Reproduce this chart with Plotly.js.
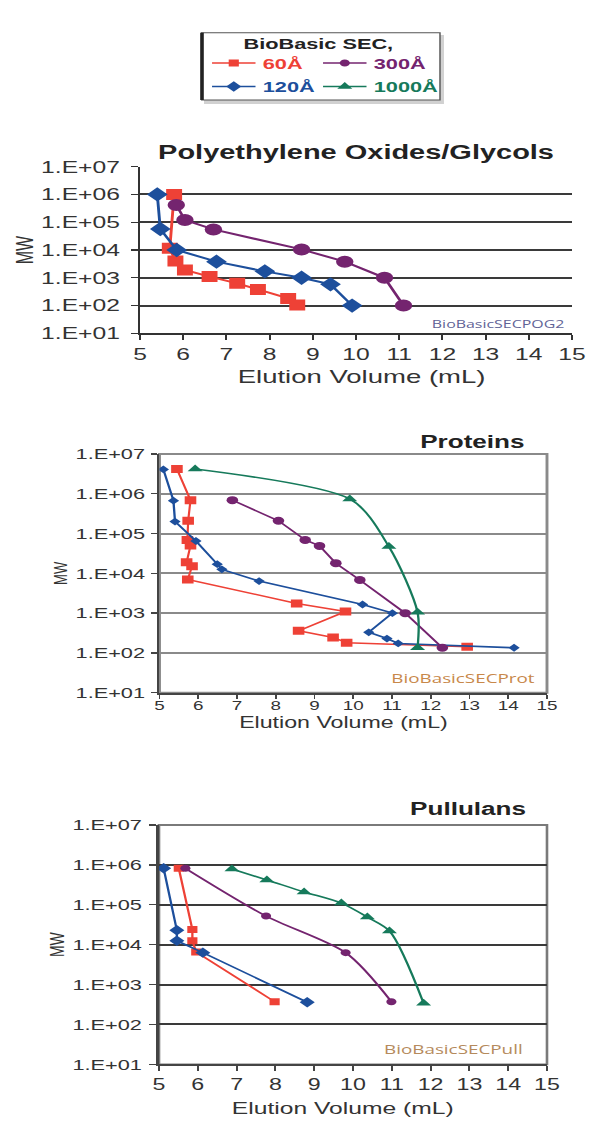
<!DOCTYPE html>
<html>
<head>
<meta charset="utf-8">
<script src="https://cdn.plot.ly/plotly-3.0.1.min.js"></script>
<style>
  html, body { margin: 0; padding: 0; background: #ffffff; overflow: hidden; }
  /* the original graphic is stretched sideways, so the plot is drawn narrow and widened */
  #chart { width: 412px; height: 1141px; transform: scaleX(1.449); transform-origin: 0 0; }
</style>
</head>
<body>
<div id="chart"></div>
<script>
// ---- data ----
var TICK_VALS = [1e1, 1e2, 1e3, 1e4, 1e5, 1e6, 1e7];
var TICK_TEXT = ["1.E+01", "1.E+02", "1.E+03", "1.E+04", "1.E+05", "1.E+06", "1.E+07"];
var X_TICKS = [5, 6, 7, 8, 9, 10, 11, 12, 13, 14, 15];

var SERIES_NAMES = ["60Å", "300Å", "120Å", "1000Å"];

// Polyethylene Oxides/Glycols
var PEO_60_X = [5.79, 5.69, 5.82, 6.04, 6.61, 7.25, 7.73, 8.43, 8.64];
var PEO_60_Y = [1.0e6, 1.15e4, 4.0e3, 1.9e3, 1.1e3, 630, 380, 180, 105];
var PEO_300_X = [5.84, 6.04, 6.70, 8.74, 9.74, 10.66, 11.10];
var PEO_300_Y = [4.2e5, 1.2e5, 5.5e4, 1.05e4, 3.8e3, 1.0e3, 100];
var PEO_120_X = [5.40, 5.47, 5.85, 6.77, 7.89, 8.74, 9.41, 9.91];
var PEO_120_Y = [1.0e6, 5.7e4, 1.0e4, 3.8e3, 1.7e3, 1.0e3, 580, 100];

// Proteins
var PROT_60_X = [5.45, 5.80, 5.74, 5.72, 5.80, 5.70, 5.84, 5.73, 8.54, 9.80, 8.59, 9.48, 9.83, 12.94];
var PROT_60_Y = [4.2e6, 6.9e5, 2.1e5, 6.9e4, 5.0e4, 1.9e4, 1.5e4, 7.0e3, 1.75e3, 1.1e3, 360, 245, 180, 142];
var PROT_300_X = [6.88, 8.07, 8.76, 9.13, 9.55, 10.17, 11.34, 12.30];
var PROT_300_Y = [6.9e5, 2.1e5, 6.9e4, 4.9e4, 1.8e4, 6.8e3, 1.0e3, 135];
var PROT_120_X = [5.10, 5.36, 5.40, 5.94, 6.49, 6.61, 7.57, 10.24, 11.01, 10.40, 10.87, 11.16, 14.15];
var PROT_120_Y = [4.1e6, 6.7e5, 2.0e5, 6.5e4, 1.7e4, 1.26e4, 6.4e3, 1.65e3, 1.0e3, 330, 230, 173, 135];
var PROT_1000_X = [5.92, 9.91, 10.92, 11.66, 11.66];
var PROT_1000_Y = [4.2e6, 7.4e5, 4.7e4, 1.05e3, 135];

// Pullulans
var PULL_60_X = [5.51, 5.86, 5.86, 5.96, 7.98];
var PULL_60_Y = [8.2e5, 2.4e4, 1.25e4, 6.5e3, 370];
var PULL_300_X = [5.68, 7.76, 9.81, 10.99];
var PULL_300_Y = [8.2e5, 5.2e4, 6.3e3, 370];
var PULL_120_X = [5.12, 5.46, 5.46, 6.13, 8.82];
var PULL_120_Y = [8.2e5, 2.3e4, 1.25e4, 6.3e3, 360];
var PULL_1000_X = [6.88, 7.78, 8.74, 9.70, 10.37, 10.94, 11.82];
var PULL_1000_Y = [7.9e5, 4.2e5, 2.1e5, 1.1e5, 4.9e4, 2.2e4, 340];

// ---- styles ----
var COLORS = { "60Å": "#ee4136", "300Å": "#74246f", "120Å": "#1d4f9c", "1000Å": "#167a5b" };
var SYMBOLS = { "60Å": "square", "300Å": "circle", "120Å": "diamond", "1000Å": "triangle-up" };
// one legend box per entry, laid out as a 2 x 2 key
var LEGEND_OF = { "60Å": "legend", "300Å": "legend2", "120Å": "legend3", "1000Å": "legend4" };

var FONT = "Liberation Sans, Arial, sans-serif";
var W = 597, H = 1141;
function px(x) { return x / W; }
function py(y) { return 1 - y / H; }

function series(name, xs, ys, xa, ya, size, width, shape, inLegend) {
  return {
    type: "scatter",
    mode: "lines+markers",
    name: '<span style="color:' + COLORS[name] + '"><b>' + name + "</b></span>",
    x: xs,
    y: ys,
    xaxis: xa,
    yaxis: ya,
    line: { color: COLORS[name], width: width, shape: shape || "linear", smoothing: 0.8 },
    marker: { color: COLORS[name], symbol: SYMBOLS[name], size: size, line: { width: 0 } },
    showlegend: !!inLegend,
    legend: LEGEND_OF[name],
    hoverinfo: "skip",
  };
}

var traces = [
  series("60Å", PEO_60_X, PEO_60_Y, "x", "y", 11, 2, "linear"),
  series("120Å", PEO_120_X, PEO_120_Y, "x", "y", 11, 2, "linear"),
  series("300Å", PEO_300_X, PEO_300_Y, "x", "y", 12, 2, "linear"),

  series("60Å", PROT_60_X, PROT_60_Y, "x2", "y2", 8, 1.5, "linear"),
  series("120Å", PROT_120_X, PROT_120_Y, "x2", "y2", 6, 1.6, "linear"),
  series("300Å", PROT_300_X, PROT_300_Y, "x2", "y2", 8, 1.6, "linear"),
  series("1000Å", PROT_1000_X, PROT_1000_Y, "x2", "y2", 9, 1.6, "spline"),

  series("60Å", PULL_60_X, PULL_60_Y, "x3", "y3", 7, 1.6, "linear", true),
  series("120Å", PULL_120_X, PULL_120_Y, "x3", "y3", 8, 1.6, "linear", true),
  series("300Å", PULL_300_X, PULL_300_Y, "x3", "y3", 7, 1.6, "spline", true),
  series("1000Å", PULL_1000_X, PULL_1000_Y, "x3", "y3", 9, 1.6, "spline", true),
];

function xAxis(left, right, anchor, o) {
  return {
    domain: [px(left), px(right)],
    anchor: anchor,
    range: [5, 15],
    tickmode: "array",
    tickvals: X_TICKS,
    ticks: "outside",
    ticklen: o.ticklen,
    tickwidth: 1.3,
    tickcolor: o.lineColor,
    ticklabelstandoff: o.xLabelGap || 0,
    showline: true,
    linecolor: o.lineColor,
    linewidth: o.lineWidth,
    showgrid: false,
    zeroline: false,
    tickfont: { family: FONT, size: o.tick, color: "#333333" },
    fixedrange: true,
  };
}

function yAxis(top, bottom, anchor, o) {
  return {
    domain: [py(bottom), py(top)],
    anchor: anchor,
    type: "log",
    range: [1, 7],
    tickmode: "array",
    tickvals: TICK_VALS,
    ticktext: TICK_TEXT,
    ticks: "outside",
    ticklen: o.ticklen,
    tickwidth: 1.3,
    tickcolor: o.lineColor,
    ticklabelstandoff: o.labelGap,
    showline: true,
    linecolor: o.lineColor,
    linewidth: o.lineWidth,
    showgrid: true,
    gridcolor: o.gridColor,
    gridwidth: o.gridWidth,
    zeroline: false,
    tickfont: { family: FONT, size: o.tick, color: "#333333" },
    title: { text: "MW", font: { family: FONT, size: o.title, color: "#333333" }, standoff: o.standoff },
    fixedrange: true,
  };
}

var TOP = { l: 140, r: 572, t: 166.7, b: 333.3 };
var MID = { l: 159.5, r: 547, t: 454, b: 692.7 };
var BOT = { l: 159, r: 547, t: 825, b: 1064.3 };

var topOpt = { ticklen: 5, lineColor: "#333333", lineWidth: 1.5, tick: 17, labelGap: 4, title: 16, standoff: 1,
  gridColor: "#3a3a3a", gridWidth: 2 };
var midOpt = { ticklen: 4, lineColor: "#444444", lineWidth: 2, tick: 13, xLabelGap: -4, labelGap: 1, title: 13,
  standoff: 2, gridColor: "#8a8a8a", gridWidth: 2 };
var midYOpt = Object.assign({}, midOpt, { tick: 15 });
var botOpt = { ticklen: 5, lineColor: "#444444", lineWidth: 1.8, tick: 16, labelGap: 2, title: 14, standoff: 2,
  gridColor: "#3a3a3a", gridWidth: 2 };
var botYOpt = Object.assign({}, botOpt, { tick: 15 });

function label(text, x, y, size, color, family, bold) {
  return {
    text: bold ? "<b>" + text + "</b>" : text,
    xref: "paper", yref: "paper", x: px(x), y: py(y),
    xanchor: "center", yanchor: "middle", showarrow: false,
    font: { family: family || FONT, size: size, color: color },
  };
}

function legendAt(x, y) {
  return {
    orientation: "h",
    x: px(x), xanchor: "left",
    y: py(y), yanchor: "middle",
    bgcolor: "rgba(0,0,0,0)",
    borderwidth: 0,
    font: { family: FONT, size: 15 },
  };
}

var layout = {
  width: 412,
  height: H,
  margin: { l: 0, r: 0, t: 0, b: 0, pad: 0 },
  paper_bgcolor: "#ffffff",
  plot_bgcolor: "rgba(0,0,0,0)",
  font: { family: FONT, color: "#333333" },

  xaxis: xAxis(TOP.l, TOP.r, "y", topOpt),
  yaxis: yAxis(TOP.t, TOP.b, "x", topOpt),
  xaxis2: xAxis(MID.l, MID.r, "y2", midOpt),
  yaxis2: yAxis(MID.t, MID.b, "x2", midYOpt),
  xaxis3: xAxis(BOT.l, BOT.r, "y3", botOpt),
  yaxis3: yAxis(BOT.t, BOT.b, "x3", botYOpt),

  showlegend: true,
  legend: legendAt(204.8, 63.3),
  legend2: legendAt(315.8, 63.3),
  legend3: legendAt(204.8, 86.7),
  legend4: legendAt(315.8, 86.7),

  shapes: [
    // legend frame: soft shadow, box, heavy left edge
    { type: "rect", xref: "paper", yref: "paper", x0: px(204), x1: px(444), y0: py(104), y1: py(35),
      line: { width: 0 }, fillcolor: "rgba(0,0,0,0.18)", layer: "below" },
    { type: "rect", xref: "paper", yref: "paper", x0: px(201.7), x1: px(440), y0: py(100), y1: py(32.7),
      line: { color: "#555555", width: 1 }, fillcolor: "#ffffff", layer: "below" },
    { type: "line", xref: "paper", yref: "paper", x0: px(202), x1: px(202), y0: py(100), y1: py(32.7),
      line: { color: "#222222", width: 2.5 } },
    // plot frames of the lower two charts
    { type: "rect", xref: "x2 domain", yref: "y2 domain", x0: 0, x1: 1, y0: 0, y1: 1,
      line: { color: "#8a8a8a", width: 2 }, layer: "below" },
    { type: "rect", xref: "x3 domain", yref: "y3 domain", x0: 0, x1: 1, y0: 0, y1: 1,
      line: { color: "#7a7a7a", width: 1.8 }, layer: "below" },
  ],

  annotations: [
    label("BioBasic SEC,", 318, 43.3, 15, "#222222", FONT, true),

    label("Polyethylene Oxides/Glycols", 355.5, 151.7, 20, "#222222", FONT, true),
    label("Proteins", 472, 441.7, 18, "#222222", FONT, true),
    label("Pullulans", 467.7, 809, 18, "#222222", FONT, true),

    label("Elution Volume (mL)", 361, 376.7, 19, "#333333"),
    label("Elution Volume (mL)", 343, 722.5, 16, "#333333"),
    label("Elution Volume (mL)", 342, 1108, 17, "#333333"),

    label("BioBasicSECPOG2", 499, 323.3, 11, "#5f6396", "Open Sans, sans-serif"),
    label("BioBasicSECProt", 463, 677.7, 13, "#c8884a", "Open Sans, sans-serif"),
    label("BioBasicSECPull", 454, 1049.3, 13, "#b58a5c", "Open Sans, sans-serif"),
  ],
};

Plotly.newPlot("chart", traces, layout, { staticPlot: true, displayModeBar: false });
</script>
</body>
</html>
